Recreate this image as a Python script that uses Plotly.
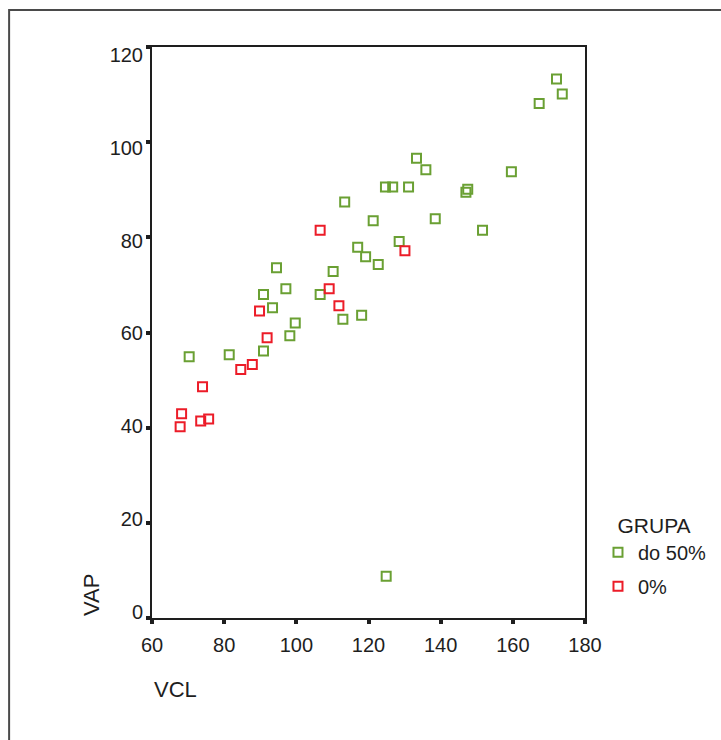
import plotly.graph_objects as go

# Data
green_vcl = [172.1, 173.7, 167.3, 133.3, 135.9, 159.6, 124.7, 126.7, 131.1, 147.5, 147.0,
             113.4, 121.3, 138.5, 151.6, 128.5, 117.0, 119.2, 122.7, 94.5, 110.2, 90.9,
             97.1, 106.6, 93.4, 112.9, 118.1, 99.7, 98.2, 90.9, 70.3, 81.4, 124.9]
green_vap = [113.3, 110.1, 108.1, 96.6, 94.2, 93.8, 90.6, 90.6, 90.6, 90.1, 89.5,
             87.4, 83.5, 83.9, 81.5, 79.1, 77.9, 75.9, 74.3, 73.6, 72.8, 68.0,
             69.2, 68.0, 65.2, 62.8, 63.6, 62.0, 59.3, 56.1, 54.9, 55.3, 8.8]
red_vcl = [106.6, 130.1, 109.1, 111.8, 89.8, 91.9, 87.8, 84.6, 74.0, 68.2, 67.8, 73.5, 75.7]
red_vap = [81.5, 77.2, 69.2, 65.6, 64.5, 58.9, 53.3, 52.2, 48.6, 42.9, 40.2, 41.4, 41.8]

group_labels = ["do 50%", "0%"]
x_ticks = [60, 80, 100, 120, 140, 160, 180]
y_ticks = [0, 20, 40, 60, 80, 100, 120]

GREEN = "#6aa033"
RED = "#ec1c28"
FONT = "Liberation Sans, Arial, Helvetica, sans-serif"
DARK = "#1e1e1e"

fig = go.Figure()
fig.add_trace(go.Scatter(
    x=green_vcl, y=green_vap, mode="markers", name=group_labels[0],
    legendgroup="g1",
    marker=dict(symbol="square-open", size=9, color=GREEN, line=dict(width=2, color=GREEN)),
))
fig.add_trace(go.Scatter(
    x=red_vcl, y=red_vap, mode="markers", name=group_labels[1],
    legendgroup="g2",
    marker=dict(symbol="square-open", size=9, color=RED, line=dict(width=2, color=RED)),
))
# empty trace so the label axis (y2) is drawn
fig.add_trace(go.Scatter(x=[], y=[], yaxis="y2", showlegend=False, hoverinfo="skip"))

fig.update_xaxes(
    range=[60, 180], tickvals=x_ticks, ticktext=[str(v) for v in x_ticks],
    showgrid=False, zeroline=False, showline=True, mirror=True,
    linecolor=DARK, linewidth=2,
    ticks="outside", ticklen=4, tickwidth=4, tickcolor=DARK,
    tickfont=dict(family=FONT, size=20, color=DARK), ticklabelstandoff=4,
)

fig.update_layout(
    yaxis=dict(
        range=[0, 120], tickvals=y_ticks, showticklabels=False,
        showgrid=False, zeroline=False, showline=True, mirror=True,
        linecolor=DARK, linewidth=2,
        ticks="outside", ticklen=4, tickwidth=4, tickcolor=DARK,
    ),
    yaxis2=dict(
        overlaying="y", side="left", anchor="x",
        range=[-1.29, 121.7], tickvals=y_ticks, ticktext=[str(v) for v in y_ticks],
        showgrid=False, zeroline=False, showline=False, ticks="",
        tickfont=dict(family=FONT, size=20, color=DARK), ticklabelstandoff=8,
    ),
    width=721, height=740,
    margin=dict(l=152, r=136, t=47, b=122, autoexpand=False),
    paper_bgcolor="white", plot_bgcolor="white",
    font=dict(family=FONT, color=DARK),
    legend=dict(
        title=dict(text="&nbsp;&nbsp;&nbsp;GRUPA", font=dict(family=FONT, size=21, color=DARK)),
        font=dict(family=FONT, size=20, color=DARK),
        x=1.03, xanchor="left", y=0.197, yanchor="top",
        traceorder="grouped", tracegroupgap=5,
        bgcolor="rgba(0,0,0,0)",
    ),
    annotations=[
        dict(text="VCL", xref="paper", yref="paper", x=0.0, y=-0.126,
             xanchor="left", yanchor="middle", showarrow=False,
             font=dict(family=FONT, size=22, color=DARK)),
        dict(text="VAP", xref="paper", yref="paper", x=-0.141, y=0.0,
             xanchor="center", yanchor="bottom", textangle=-90, showarrow=False,
             font=dict(family=FONT, size=22, color=DARK)),
    ],
    shapes=[
        dict(type="rect", xref="paper", yref="paper",
             x0=-0.330, y0=-1.0, x1=2.0, y1=1.0648,
             line=dict(color="#4a4a4a", width=2), layer="below"),
    ],
)

fig.write_html("out.html", config={"displayModeBar": False},
               post_script="document.body.style.margin='0';")
